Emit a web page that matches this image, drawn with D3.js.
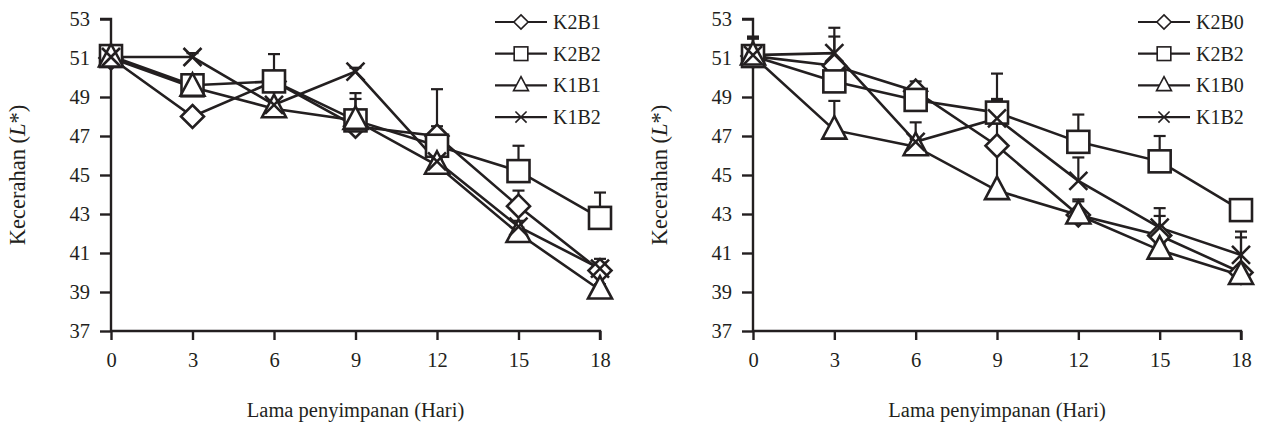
<!DOCTYPE html>
<html><head><meta charset="utf-8">
<script src="https://cdn.jsdelivr.net/npm/d3@7/dist/d3.min.js"></script>
<style>body{margin:0;background:#fff}svg{display:block}text{font-family:"Liberation Serif","Times New Roman",serif;fill:#231f20}</style>
</head><body><svg id="c" width="1265" height="424"></svg>
<script>
const days = [0, 3, 6, 9, 12, 15, 18];
const yTicks = [37, 39, 41, 43, 45, 47, 49, 51, 53];
const xTicks = [0, 3, 6, 9, 12, 15, 18];
const xTitle = "Lama penyimpanan (Hari)";

// Left panel
const leftNames = ["K2B1", "K2B2", "K1B1", "K1B2"];
const leftShapes = ["diamond", "square", "triangle", "cross"];
const leftK2B1 = [51.0, 48.0, 49.8, 47.5, 47.0, 43.4, 40.1];
const leftK2B2 = [51.1, 49.6, 49.8, 47.8, 46.5, 45.2, 42.8];
const leftK1B1 = [51.0, 49.5, 48.4, 47.8, 45.5, 42.0, 39.1];
const leftK1B2 = [51.05, 51.05, 48.6, 50.3, 45.7, 42.35, 40.2];
const leftErrK2B1 = [0.2, 0.3, 0.3, 0.3, 2.4, 0.8, 0.6];
const leftErrK2B2 = [0.3, 0.5, 1.4, 1.4, 1.0, 1.3, 1.3];
const leftErrK1B1 = [0.2, 0.3, 0.3, 1.1, 0.3, 0.3, 0.3];
const leftErrK1B2 = [0.2, 0.2, 0.2, 0.2, 0.3, 0.3, 0.3];

// Right panel
const rightNames = ["K2B0", "K2B2", "K1B0", "K1B2"];
const rightShapes = ["diamond", "square", "triangle", "cross"];
const rightK2B0 = [51.1, 50.6, 49.3, 46.5, 42.95, 41.9, 40.0];
const rightK2B2 = [51.1, 49.8, 48.85, 48.2, 46.7, 45.7, 43.2];
const rightK1B0 = [51.1, 47.3, 46.45, 44.2, 42.95, 41.15, 39.85];
const rightK1B2 = [51.15, 51.25, 46.7, 47.9, 44.7, 42.3, 40.9];
const rightErrK2B0 = [1.0, 1.5, 0.5, 2.4, 0.8, 1.0, 1.8];
const rightErrK2B2 = [0.9, 0.5, 0.6, 2.0, 1.4, 1.3, 0.4];
const rightErrK1B0 = [0.9, 1.5, 0.4, 2.0, 0.7, 0.3, 0.3];
const rightErrK1B2 = [0.9, 1.3, 1.0, 0.9, 1.2, 1.0, 1.2];

const svg = d3.select("#c");
const ink = "#231f20";

function marker(g, shape, cx, cy, s) {
  if (shape === "diamond") {
    const h = 11.5 * s;
    g.append("path").attr("d", `M${cx},${cy - h}L${cx + h},${cy}L${cx},${cy + h}L${cx - h},${cy}Z`)
      .attr("fill", "#fff").attr("stroke", ink).attr("stroke-width", 2.6 * s);
  } else if (shape === "square") {
    const h = 11 * s;
    g.append("rect").attr("x", cx - h).attr("y", cy - h).attr("width", 2 * h).attr("height", 2 * h)
      .attr("fill", "#fff").attr("stroke", ink).attr("stroke-width", 2.6 * s);
  } else if (shape === "triangle") {
    const w = 12 * s, up = 14 * s, dn = 8.5 * s;
    g.append("path").attr("d", `M${cx},${cy - up}L${cx + w},${cy + dn}L${cx - w},${cy + dn}Z`)
      .attr("fill", "#fff").attr("stroke", ink).attr("stroke-width", 2.6 * s);
  } else {
    const h = 9 * s;
    g.append("path").attr("d", `M${cx - h},${cy - h}L${cx + h},${cy + h}M${cx - h},${cy + h}L${cx + h},${cy - h}`)
      .attr("fill", "none").attr("stroke", ink).attr("stroke-width", 2.6 * s);
  }
}

function panel(opt) {
  const x = d3.scaleLinear().domain([0, 18]).range([opt.x0, opt.x1]);
  const y = d3.scaleLinear().domain([37, 53]).range([331, 19]);
  const g = svg.append("g");

  const ya = g.append("g").attr("transform", `translate(${opt.x0},0)`)
    .call(d3.axisLeft(y).tickValues(yTicks).tickSize(11).tickPadding(10).tickFormat(d3.format("d")));
  ya.select(".domain").attr("stroke", ink).attr("stroke-width", 2.4).attr("d", `M-11,${y(53)}H0V${y(37)}`);
  ya.selectAll(".tick line").attr("stroke", ink).attr("stroke-width", 2.4);
  ya.selectAll(".tick text").attr("font-size", 20.5).attr("font-family", "Liberation Serif").attr("fill", ink);

  const xa = g.append("g").attr("transform", `translate(0,331)`)
    .call(d3.axisBottom(x).tickValues(xTicks).tickSize(9).tickPadding(12).tickFormat(d3.format("d")));
  xa.select(".domain").attr("stroke", ink).attr("stroke-width", 2.4).attr("d", `M${opt.x0},0H${opt.x1}V9`);
  xa.selectAll(".tick line").attr("stroke", ink).attr("stroke-width", 2.4);
  xa.selectAll(".tick text").attr("font-size", 20.5).attr("font-family", "Liberation Serif").attr("fill", ink);

  g.append("text").attr("x", (opt.x0 + opt.x1) / 2).attr("y", 417).attr("text-anchor", "middle")
    .attr("font-size", 20.5).text(xTitle);
  const yt = g.append("text").attr("transform", `translate(${opt.x0 - 86},175) rotate(-90)`)
    .attr("text-anchor", "middle").attr("font-size", 22.5);
  yt.append("tspan").text("Kecerahan (");
  yt.append("tspan").attr("font-style", "italic").text("L");
  yt.append("tspan").text("*)");

  const line = d3.line().x((d, i) => x(days[i])).y(d => y(d));

  opt.series.forEach(s => {
    g.append("path").datum(s.values).attr("d", line).attr("fill", "none")
      .attr("stroke", ink).attr("stroke-width", 2.6);
  });
  opt.series.forEach(s => {
    s.values.forEach((v, i) => {
      const cx = x(days[i]);
      g.append("line").attr("x1", cx).attr("x2", cx).attr("y1", y(v)).attr("y2", y(v + s.err[i]))
        .attr("stroke", ink).attr("stroke-width", 2.2);
      g.append("line").attr("x1", cx - 6).attr("x2", cx + 6).attr("y1", y(v + s.err[i])).attr("y2", y(v + s.err[i]))
        .attr("stroke", ink).attr("stroke-width", 2.2);
    });
  });
  opt.series.forEach(s => {
    s.values.forEach((v, i) => marker(g, s.shape, x(days[i]), y(v), 1));
  });

  opt.series.forEach((s, i) => {
    const ly = 22 + i * 31.7;
    g.append("line").attr("x1", opt.lx).attr("x2", opt.lx + 52).attr("y1", ly).attr("y2", ly)
      .attr("stroke", ink).attr("stroke-width", 2.2);
    marker(g, s.shape, opt.lx + 26, ly, 0.62);
    g.append("text").attr("x", opt.lx + 58).attr("y", ly + 7).attr("font-size", 20).text(s.name);
  });
}

panel({
  x0: 111, x1: 600, lx: 495,
  series: [
    { name: leftNames[0], shape: leftShapes[0], values: leftK2B1, err: leftErrK2B1 },
    { name: leftNames[1], shape: leftShapes[1], values: leftK2B2, err: leftErrK2B2 },
    { name: leftNames[2], shape: leftShapes[2], values: leftK1B1, err: leftErrK1B1 },
    { name: leftNames[3], shape: leftShapes[3], values: leftK1B2, err: leftErrK1B2 }
  ]
});
panel({
  x0: 753, x1: 1241, lx: 1138,
  series: [
    { name: rightNames[0], shape: rightShapes[0], values: rightK2B0, err: rightErrK2B0 },
    { name: rightNames[1], shape: rightShapes[1], values: rightK2B2, err: rightErrK2B2 },
    { name: rightNames[2], shape: rightShapes[2], values: rightK1B0, err: rightErrK1B0 },
    { name: rightNames[3], shape: rightShapes[3], values: rightK1B2, err: rightErrK1B2 }
  ]
});
</script></body></html>
